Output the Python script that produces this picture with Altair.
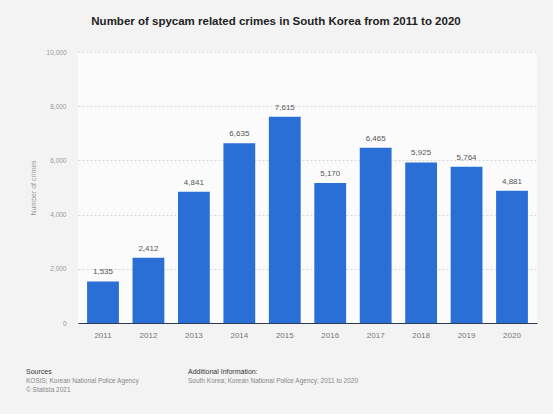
import altair as alt
import pandas as pd

years = ["2011", "2012", "2013", "2014", "2015", "2016", "2017", "2018", "2019", "2020"]
crimes = [1535, 2412, 4841, 6635, 7615, 5170, 6465, 5925, 5764, 4881]
y_ticks = [0, 2000, 4000, 6000, 8000, 10000]

title_text = "Number of spycam related crimes in South Korea from 2011 to 2020"
y_title = "Number of crimes"
sources_head = "Sources"
sources_lines = ["KOSIS; Korean National Police Agency", "© Statista 2021"]
info_head = "Additional Information:"
info_lines = ["South Korea; Korean National Police Agency; 2011 to 2020"]

df = pd.DataFrame({"year": years, "crimes": crimes})
df["label"] = [f"{v:,}" for v in crimes]

W, H = 459, 271
FONT = "Liberation Sans"

x = alt.X("year:N", title=None, sort=years,
          scale=alt.Scale(paddingInner=0.3, paddingOuter=0.2),
          axis=alt.Axis(labelAngle=0, labelFontSize=8, labelColor="#777", labelFont=FONT,
                        ticks=False, domainColor="#2b3a55", domainWidth=1.2, labelPadding=8))
y = alt.Y("crimes:Q", title=y_title,
          scale=alt.Scale(domain=[0, 10000], nice=False),
          axis=alt.Axis(values=y_ticks, format=",.0f", labelFontSize=6.5, labelColor="#999",
                        labelFont=FONT, ticks=False, domain=False, labelPadding=12,
                        gridDash=[2, 2], gridColor="#d8d8d8", titleFontSize=7,
                        titleFontWeight="normal", titleColor="#999", titleFont=FONT,
                        titlePadding=10))

base = alt.Chart(df)
bars = base.mark_bar(color="#2a6fd6").encode(x=x, y=y)
labels = base.mark_text(dy=-9, fontSize=8, color="#555", font=FONT).encode(
    x=x, y=y, text="label:N")

title = alt.Chart(pd.DataFrame({"t": [title_text]})).mark_text(
    fontSize=11.5, fontWeight="bold", color="#222", font=FONT, align="center"
).encode(x=alt.value(198), y=alt.value(-30), text="t:N")

foot_rows = [
    (sources_head, -52, 320, "#333", 7),
    (sources_lines[0], -52, 329, "#888", 6.5),
    (sources_lines[1], -52, 338, "#888", 6.5),
    (info_head, 110, 320, "#333", 7),
    (info_lines[0], 110, 329, "#888", 6.5),
]
foot_layers = []
for txt, fx, fy, col, fs in foot_rows:
    foot_layers.append(
        alt.Chart(pd.DataFrame({"t": [txt]})).mark_text(
            align="left", fontSize=fs, color=col, font=FONT
        ).encode(x=alt.value(fx), y=alt.value(fy), text="t:N")
    )

chart = alt.layer(bars, labels, title, *foot_layers).properties(
    width=W, height=H,
    autosize=alt.AutoSizeParams(type="none"),
    padding={"left": 78, "top": 52, "right": 16, "bottom": 91},
    background="#f3f3f3",
).configure_view(fill="#fbfbfb", stroke=None)

chart.save("out.html", embed_options={"renderer": "svg", "actions": False})
